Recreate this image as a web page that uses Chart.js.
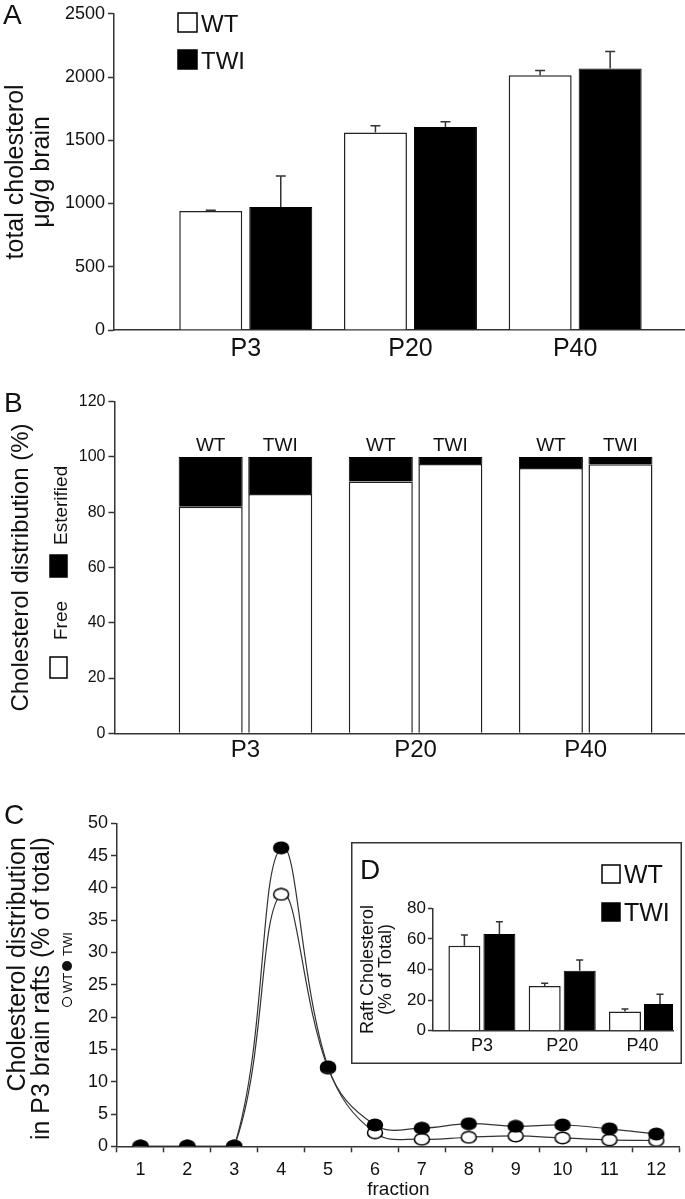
<!DOCTYPE html>
<html lang="en">
<head>
<meta charset="UTF-8">
<title>Brain cholesterol, WT vs TWI</title>
<script src="https://cdn.jsdelivr.net/npm/chart.js"></script>
<style>
  body { margin: 0; background: #fff; overflow: hidden; }
  .page { position: relative; width: 685px; height: 1199px; font-family: "Liberation Sans", Arial, sans-serif; color: #111; }
  canvas { position: absolute; }
  #chartA { left: 0; top: 0; }
  #chartB { left: 0; top: 380px; }
  #chartC { left: 0; top: 780px; }
  #chartD { left: 351px; top: 842px; }
  .panel { position: absolute; font-size: 28px; line-height: 28px; }
</style>
</head>
<body>
<div class="page">
  <canvas id="chartA" width="685" height="370"></canvas>
  <canvas id="chartB" width="685" height="395"></canvas>
  <canvas id="chartC" width="685" height="419"></canvas>
  <canvas id="chartD" width="331" height="222"></canvas>
  <div class="panel" style="left:3px; top:1px">A</div>
  <div class="panel" style="left:4px; top:389px">B</div>
  <div class="panel" style="left:4px; top:801px">C</div>
  <div class="panel" style="left:360px; top:856px">D</div>
</div>

<script>
// --- data ---
const ages = ['P3', 'P20', 'P40'];

// A: total cholesterol (ug/g brain), mean and upper error
const totalWT = [940, 1561, 2014];
const totalTWI = [972, 1605, 2068];
const totalWTErr = [6, 54, 38];
const totalTWIErr = [245, 41, 133];

// B: free / esterified split (%)
const freeWT = [82, 91.1, 96];
const esterWT = [18, 8.9, 4];
const freeTWI = [86.6, 97.5, 97.4];
const esterTWI = [13.4, 2.5, 2.6];

// C: P3 raft gradient, % of total per fraction
const fractions = ['1', '2', '3', '4', '5', '6', '7', '8', '9', '10', '11', '12'];
const raftWT = [0, 0, 0, 39, 12.1, 2.1, 1.1, 1.4, 1.6, 1.3, 1.0, 0.9];
const raftTWI = [0, 0, 0, 46.2, 12.3, 3.3, 2.8, 3.5, 3.1, 3.3, 2.7, 1.9];

// D: raft cholesterol (% of total)
const raftTotWT = [55.5, 29.2, 12.6];
const raftTotTWI = [63.2, 39.2, 17.4];
const raftTotWTErr = [7.1, 1.8, 1.6];
const raftTotTWIErr = [8, 7, 6.4];

const ink = '#111';
const axisCol = '#333';
const FONT = '"Liberation Sans", Arial, sans-serif';
Chart.defaults.font.family = FONT;
Chart.defaults.color = ink;

// bars sit at 1,2,3 on a linear x axis so the groups can be placed like the original
const pts = (vals) => vals.map((v, i) => ({ x: i + 1, y: v }));
const ageTicks = (s) => { s.ticks = ages.map((a, i) => ({ value: i + 1 })); };
const plain = (v) => String(v);

const errorBars = {
  id: 'errorBars',
  afterDatasetsDraw(chart, args, opts) {
    const ctx = chart.ctx;
    const y = chart.scales.y;
    chart.data.datasets.forEach((ds, di) => {
      if (!ds.errors) return;
      chart.getDatasetMeta(di).data.forEach((bar, i) => {
        const top = y.getPixelForValue(ds.data[i].y + ds.errors[i]);
        ctx.save();
        ctx.strokeStyle = axisCol;
        ctx.lineWidth = 1.5;
        ctx.beginPath();
        ctx.moveTo(bar.x, bar.y);
        ctx.lineTo(bar.x, top);
        ctx.moveTo(bar.x - opts.cap / 2, top);
        ctx.lineTo(bar.x + opts.cap / 2, top);
        ctx.stroke();
        ctx.restore();
      });
    });
  }
};

const barTags = {
  id: 'barTags',
  afterDatasetsDraw(chart) {
    const ctx = chart.ctx;
    chart.data.datasets.forEach((ds, di) => {
      if (!ds.tag) return;
      chart.getDatasetMeta(di).data.forEach((bar) => {
        ctx.save();
        ctx.font = '19px ' + FONT;
        ctx.fillStyle = ink;
        ctx.textAlign = 'center';
        ctx.fillText(ds.tag, bar.x, bar.y - 6);
        ctx.restore();
      });
    });
  }
};

function rotText(ctx, text, x, y) {
  ctx.save();
  ctx.translate(x, y);
  ctx.rotate(-Math.PI / 2);
  ctx.textAlign = 'left';
  ctx.textBaseline = 'alphabetic';
  ctx.fillText(text, 0, 0);
  ctx.restore();
}

function boxKey(ctx, x, y, w, h, filled) {
  ctx.save();
  ctx.fillStyle = filled ? '#000' : '#fff';
  ctx.fillRect(x, y, w, h);
  ctx.strokeStyle = '#000';
  ctx.lineWidth = 1.5;
  ctx.strokeRect(x, y, w, h);
  ctx.restore();
}

// small legend in the corner, as in panels A and D
function cornerLegend(id, x, y, size, gap, fontSize) {
  return {
    id: id,
    afterDraw(chart) {
      const ctx = chart.ctx;
      ctx.save();
      ctx.font = fontSize + 'px ' + FONT;
      boxKey(ctx, x, y, size, size, false);
      ctx.fillStyle = ink;
      ctx.fillText('WT', x + size + 4, y + size);
      boxKey(ctx, x, y + gap, size, size, true);
      ctx.fillStyle = ink;
      ctx.fillText('TWI', x + size + 4, y + gap + size);
      ctx.restore();
    }
  };
}

const baseOpts = { responsive: false, animation: false, events: [] };
const noPlugins = { legend: { display: false }, tooltip: { enabled: false } };
const yGrid = { drawOnChartArea: false, tickLength: 6, color: axisCol, tickWidth: 1.5 };
const border = { color: axisCol, width: 1.5 };
const openBar = { backgroundColor: '#fff', borderColor: '#222', borderWidth: 1.5, borderSkipped: 'start' };
const solidBar = { backgroundColor: '#000', borderColor: '#000', borderWidth: 1 };

// ---------- A ----------
new Chart(document.getElementById('chartA'), {
  type: 'bar',
  data: {
    datasets: [
      { label: 'WT', data: pts(totalWT), errors: totalWTErr, ...openBar },
      { label: 'TWI', data: pts(totalTWI), errors: totalTWIErr, ...solidBar }
    ]
  },
  options: {
    ...baseOpts,
    layout: { padding: { top: 6, right: 0, bottom: 0, left: 0 } },
    datasets: { bar: { categoryPercentage: 0.85, barPercentage: 0.9 } },
    scales: {
      x: {
        type: 'linear', min: 0.2, max: 3.667, bounds: 'data', offset: false,
        afterBuildTicks: ageTicks,
        ticks: { callback: (v, i) => ages[i], font: { size: 25 }, padding: 4 },
        grid: { display: false, drawTicks: false },
        border: border,
        afterFit: (s) => { s.height = 40; }
      },
      y: {
        min: 0, max: 2500,
        ticks: { stepSize: 500, callback: plain, font: { size: 18 }, padding: 3 },
        grid: yGrid, border: border,
        title: { display: true, text: ['total cholesterol', 'μg/g brain'], font: { size: 25, lineHeight: 1.04 }, padding: { top: 3, bottom: 0 } },
        afterFit: (s) => { s.width = 114; }
      }
    },
    plugins: { ...noPlugins, errorBars: { cap: 10 } }
  },
  plugins: [errorBars, cornerLegend('legendA', 178, 13, 19, 37, 24)]
});

// ---------- B ----------
const legendB = {
  id: 'legendB',
  afterDraw(chart) {
    const ctx = chart.ctx;
    ctx.save();
    ctx.font = '19px ' + FONT;
    boxKey(ctx, 50, 277, 17, 21, false);
    ctx.fillStyle = ink;
    rotText(ctx, 'Free', 67, 260);
    boxKey(ctx, 50, 175, 17, 22, true);
    ctx.fillStyle = ink;
    rotText(ctx, 'Esterified', 67, 165);
    ctx.restore();
  }
};

new Chart(document.getElementById('chartB'), {
  type: 'bar',
  data: {
    datasets: [
      { label: 'WT free', stack: 'WT', data: pts(freeWT), ...openBar },
      { label: 'WT esterified', stack: 'WT', tag: 'WT', data: pts(esterWT), ...solidBar },
      { label: 'TWI free', stack: 'TWI', data: pts(freeTWI), ...openBar },
      { label: 'TWI esterified', stack: 'TWI', tag: 'TWI', data: pts(esterTWI), ...solidBar }
    ]
  },
  options: {
    ...baseOpts,
    layout: { padding: { top: 21.7, right: 1, bottom: 0, left: 0 } },
    datasets: { bar: { categoryPercentage: 0.818, barPercentage: 0.92 } },
    scales: {
      x: {
        type: 'linear', min: 0.23, max: 3.578, bounds: 'data', offset: false,
        afterBuildTicks: ageTicks,
        ticks: { callback: (v, i) => ages[i], font: { size: 24 }, padding: 3 },
        grid: { display: false, drawTicks: false },
        border: border,
        afterFit: (s) => { s.height = 41.7; }
      },
      y: {
        stacked: true, min: 0, max: 120,
        ticks: { stepSize: 20, callback: plain, font: { size: 16 }, padding: 3 },
        grid: yGrid, border: border,
        title: { display: true, text: 'Cholesterol distribution (%)', font: { size: 24, lineHeight: 1.2 }, padding: { top: 7, bottom: 0 } },
        afterFit: (s) => { s.width = 114.5; }
      }
    },
    plugins: noPlugins
  },
  plugins: [barTags, legendB]
});

// ---------- C ----------
function dot(fill) {
  const c = document.createElement('canvas');
  c.width = 18;
  c.height = 14;
  const g = c.getContext('2d');
  g.beginPath();
  g.ellipse(9, 7, 7.5, 5.7, 0, 0, Math.PI * 2);
  g.fillStyle = fill;
  g.fill();
  g.lineWidth = 1.5;
  g.strokeStyle = '#000';
  g.stroke();
  return c;
}

const legendC = {
  id: 'legendC',
  afterDraw(chart) {
    const ctx = chart.ctx;
    ctx.save();
    ctx.font = '13px ' + FONT;
    ctx.fillStyle = ink;
    ctx.strokeStyle = '#000';
    ctx.lineWidth = 1.2;
    ctx.beginPath();
    ctx.arc(67, 222, 4.5, 0, Math.PI * 2);
    ctx.stroke();
    rotText(ctx, 'WT', 72, 213);
    ctx.beginPath();
    ctx.arc(67, 186, 5, 0, Math.PI * 2);
    ctx.fill();
    rotText(ctx, 'TWI', 72, 176);
    ctx.restore();
  }
};

new Chart(document.getElementById('chartC'), {
  type: 'line',
  data: {
    labels: fractions,
    datasets: [
      { label: 'TWI', data: raftTWI, borderColor: '#333', borderWidth: 1.2, tension: 0.4, pointStyle: dot('#000') },
      { label: 'WT', data: raftWT, borderColor: '#333', borderWidth: 1.2, tension: 0.4, pointStyle: dot('#fff') }
    ]
  },
  options: {
    ...baseOpts,
    layout: { padding: { top: 43.3, right: 4, bottom: 0, left: 0 } },
    scales: {
      x: {
        offset: true,
        ticks: { font: { size: 18 }, padding: 7 },
        grid: { offset: true, drawOnChartArea: false, tickLength: 6, color: axisCol, tickWidth: 1.5 },
        border: border,
        title: { display: true, text: 'fraction', font: { size: 19, lineHeight: 1 }, padding: 0 },
        afterFit: (s) => { s.height = 52.7; }
      },
      y: {
        min: 0, max: 50,
        ticks: { stepSize: 5, callback: plain, font: { size: 18 }, padding: 3 },
        grid: yGrid, border: border,
        // end-aligned like the original; the trailing spaces keep the lines clear of the "C"
        title: { display: true, align: 'end', text: ['Cholesterol distribution\u00A0\u00A0', 'in P3 brain rafts (% of total)\u00A0\u00A0'], font: { size: 25, lineHeight: 0.96 }, padding: { top: 6, bottom: 0 } },
        afterFit: (s) => { s.width = 117; }
      }
    },
    plugins: noPlugins
  },
  plugins: [legendC]
});

// ---------- D (inset) ----------
const frameD = {
  id: 'frameD',
  beforeDraw(chart) {
    const ctx = chart.ctx;
    ctx.save();
    ctx.fillStyle = '#fff';
    ctx.fillRect(0, 0, chart.width, chart.height);
    ctx.restore();
  },
  afterDraw(chart) {
    const ctx = chart.ctx;
    ctx.save();
    ctx.strokeStyle = '#333';
    ctx.lineWidth = 1.5;
    ctx.strokeRect(0.75, 0.75, chart.width - 1.5, chart.height - 1.5);
    ctx.restore();
  }
};

new Chart(document.getElementById('chartD'), {
  type: 'bar',
  data: {
    datasets: [
      { label: 'WT', data: pts(raftTotWT), errors: raftTotWTErr, ...openBar },
      { label: 'TWI', data: pts(raftTotTWI), errors: raftTotTWIErr, ...solidBar }
    ]
  },
  options: {
    ...baseOpts,
    layout: { padding: { top: 66.3, right: 9, bottom: 0, left: 0 } },
    datasets: { bar: { categoryPercentage: 0.872, barPercentage: 0.914 } },
    scales: {
      x: {
        type: 'linear', min: 0.391, max: 3.38, bounds: 'data', offset: false,
        afterBuildTicks: ageTicks,
        ticks: { callback: (v, i) => ages[i], font: { size: 18 }, padding: 5 },
        grid: { display: false, drawTicks: false },
        border: border,
        afterFit: (s) => { s.height = 33.3; }
      },
      y: {
        min: 0, max: 80,
        ticks: { stepSize: 20, callback: plain, font: { size: 17 }, padding: 2 },
        grid: { drawOnChartArea: false, tickLength: 5, color: axisCol, tickWidth: 1.5 },
        border: border,
        title: { display: true, text: ['Raft Cholesterol', '(% of Total)'], font: { size: 18, lineHeight: 1 }, padding: { top: 8.5, bottom: 0 } },
        afterFit: (s) => { s.width = 82; }
      }
    },
    plugins: { ...noPlugins, errorBars: { cap: 7 } }
  },
  plugins: [frameD, errorBars, cornerLegend('legendD', 251, 23, 18, 38, 25)]
});
</script>
</body>
</html>
